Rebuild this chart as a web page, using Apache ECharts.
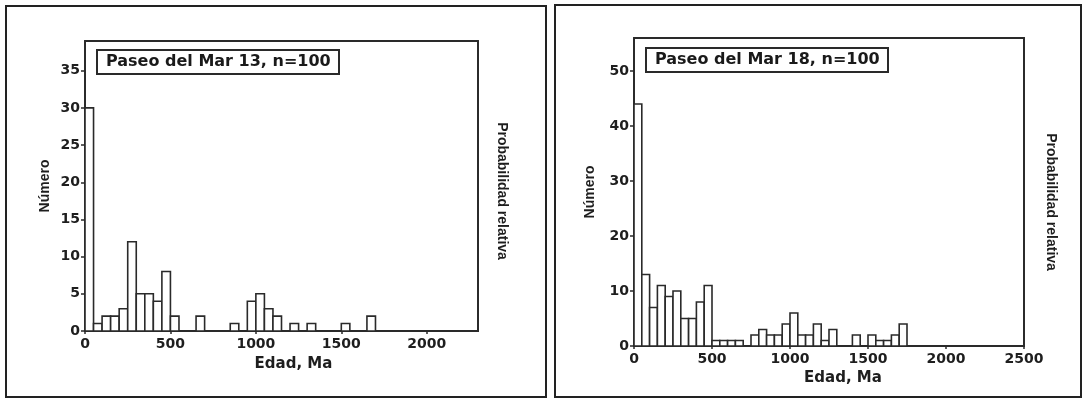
<!DOCTYPE html>
<html>
<head>
<meta charset="utf-8">
<script src="https://cdn.jsdelivr.net/npm/echarts@6/dist/echarts.min.js"></script>
<style>
  html, body { margin: 0; padding: 0; background: #ffffff; }
  #chart { width: 1087px; height: 399px; }
</style>
</head>
<body>
<div id="chart"></div>
<script>
// Age histograms of detrital zircons, bins of 50 Ma
const binWidth = 50;

// Paseo del Mar 13
const mar13Title = 'Paseo del Mar 13, n=100';
const mar13BinStart = [0, 50, 100, 150, 200, 250, 300, 350, 400, 450, 500, 650, 850, 950, 1000, 1050, 1100, 1200, 1300, 1500, 1650];
const mar13Count    = [30, 1, 2, 2, 3, 12, 5, 5, 4, 8, 2, 2, 1, 4, 5, 3, 2, 1, 1, 1, 2];

// Paseo del Mar 18
const mar18Title = 'Paseo del Mar 18, n=100';
const mar18BinStart = [0, 50, 100, 150, 200, 250, 300, 350, 400, 450, 500, 550, 600, 650, 750, 800, 850, 900, 950, 1000, 1050, 1100, 1150, 1200, 1250, 1400, 1500, 1550, 1600, 1650, 1700];
const mar18Count    = [44, 13, 7, 11, 9, 10, 5, 5, 8, 11, 1, 1, 1, 1, 2, 3, 2, 2, 4, 6, 2, 2, 4, 1, 3, 2, 2, 1, 1, 2, 4];

// Axis texts
const xName = 'Edad, Ma';
const yName = 'Número';
const y2Name = 'Probabilidad relativa';

const ink = '#2a2a2a';
const tickFont = { fontFamily: 'DejaVu Sans', fontWeight: 'bold', fontSize: 14, color: '#1e1e1e' };
const nameFont = { fontFamily: 'Liberation Sans', fontWeight: 'bold', fontSize: 14, color: '#1e1e1e' };

function plain(v) { return String(v); }

function renderBin(params, api) {
  const start = api.value(0);
  const count = api.value(1);
  const top = api.coord([start, count]);
  const bottom = api.coord([start + binWidth, 0]);
  return {
    type: 'rect',
    shape: { x: top[0], y: top[1], width: bottom[0] - top[0], height: bottom[1] - top[1] },
    style: { fill: '#ffffff', stroke: ink, lineWidth: 1.6 }
  };
}

function pairs(starts, counts) {
  return starts.map((s, i) => [s, counts[i]]);
}

function xAxisFor(gridIndex, max, namePad, showMax) {
  return {
    type: 'value', gridIndex, min: 0, max, interval: 500,
    name: xName, nameLocation: 'middle', nameGap: gridIndex === 0 ? 26 : 20,
    nameTextStyle: Object.assign({}, tickFont, { fontSize: 15, padding: [0, 0, 0, namePad] }),
    axisLine: { show: true, onZero: false, lineStyle: { color: ink, width: 1.8 } },
    axisTick: { show: true, length: 3, lineStyle: { color: ink, width: 1.5 } },
    axisLabel: Object.assign({ margin: 6, showMaxLabel: showMax, formatter: plain }, tickFont),
    splitLine: { show: false }
  };
}

function yAxisFor(gridIndex, max, interval, gap) {
  return {
    type: 'value', gridIndex, min: 0, max, interval,
    name: yName, nameLocation: 'middle', nameGap: gap, nameRotate: 90,
    nameTextStyle: nameFont,
    axisLine: { show: true, lineStyle: { color: ink, width: 1.8 } },
    axisTick: { show: true, length: 4, lineStyle: { color: ink, width: 1.5 } },
    axisLabel: Object.assign({ margin: 5, showMaxLabel: false, formatter: plain }, tickFont),
    splitLine: { show: false }
  };
}

function y2AxisFor(gridIndex, gap, pad) {
  return {
    type: 'value', gridIndex, min: 0, max: 1, position: 'right',
    name: y2Name, nameLocation: 'middle', nameGap: gap, nameRotate: -90,
    nameTextStyle: Object.assign({}, nameFont, { padding: [0, 0, 0, pad] }),
    axisLine: { show: true, lineStyle: { color: ink, width: 1.8 } },
    axisTick: { show: false }, axisLabel: { show: false }, splitLine: { show: false }
  };
}

function titleFor(text, left, top) {
  return {
    text, left, top,
    padding: [4, 9, 4, 9],
    borderWidth: 2, borderColor: ink, backgroundColor: '#ffffff',
    textStyle: { fontFamily: 'DejaVu Sans', fontWeight: 'bold', fontSize: 16, color: '#1a1a1a' }
  };
}

const chart = echarts.init(document.getElementById('chart'), null, { renderer: 'canvas' });

chart.setOption({
  animation: false,
  backgroundColor: '#ffffff',
  title: [
    titleFor(mar13Title, 97, 50),
    titleFor(mar18Title, 646, 48)
  ],
  grid: [
    { left: 85, top: 41, width: 393, height: 290, show: true, borderColor: ink, borderWidth: 1.8 },
    { left: 634, top: 38, width: 390, height: 308, show: true, borderColor: ink, borderWidth: 1.8 }
  ],
  xAxis: [
    xAxisFor(0, 2300, 24, false),
    xAxisFor(1, 2500, 28, true)
  ],
  yAxis: [
    yAxisFor(0, 39, 5, 33),
    y2AxisFor(0, 17, 10),
    yAxisFor(1, 56, 10, 37),
    y2AxisFor(1, 20, 20)
  ],
  graphic: [
    { type: 'rect', shape: { x: 6, y: 6, width: 540, height: 391 }, style: { fill: 'none', stroke: '#222', lineWidth: 2 }, silent: true },
    { type: 'rect', shape: { x: 555, y: 5, width: 526, height: 392 }, style: { fill: 'none', stroke: '#222', lineWidth: 2 }, silent: true }
  ],
  series: [
    {
      type: 'custom', xAxisIndex: 0, yAxisIndex: 0, clip: true,
      renderItem: renderBin, encode: { x: 0, y: 1 },
      data: pairs(mar13BinStart, mar13Count)
    },
    {
      type: 'custom', xAxisIndex: 1, yAxisIndex: 2, clip: true,
      renderItem: renderBin, encode: { x: 0, y: 1 },
      data: pairs(mar18BinStart, mar18Count)
    }
  ]
});
</script>
</body>
</html>
